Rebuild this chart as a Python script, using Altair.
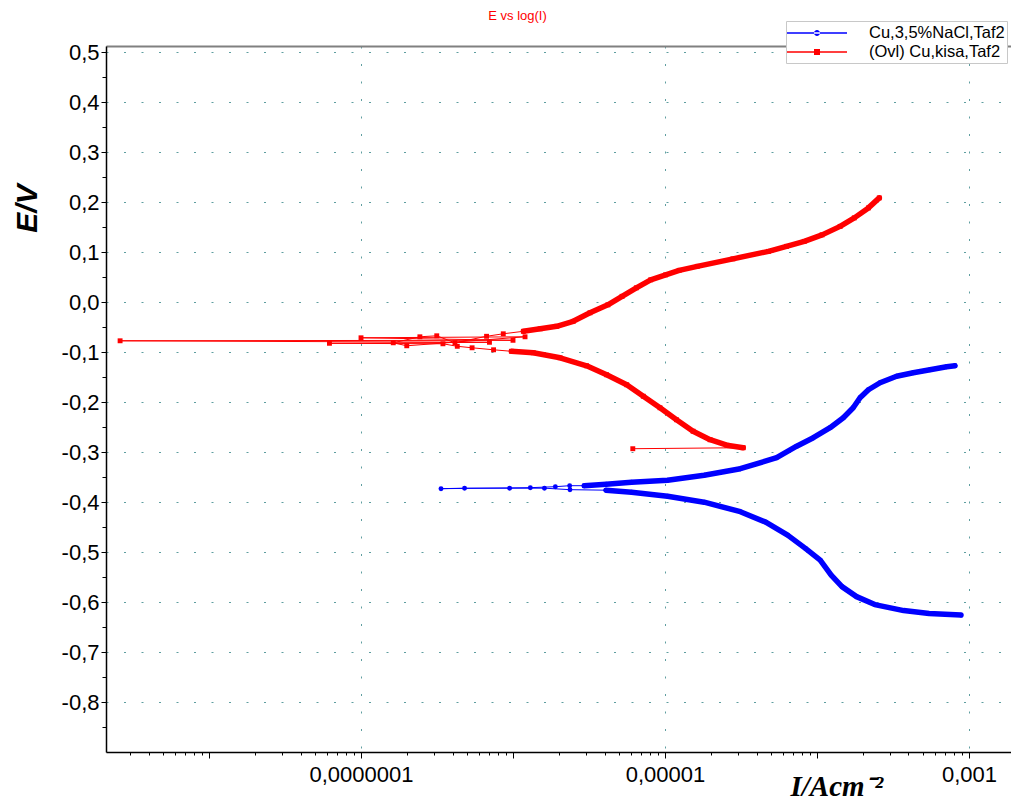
import altair as alt
import pandas as pd

SERIES = ["Cu,3,5%NaCl,Taf2", "(Ovl) Cu,kisa,Taf2"]
COLORS = ["#0000FF", "#FF0000"]

# ---- Cu,3,5%NaCl,Taf2 (scan order) ----
blue_I = [8.85e-4, 5.47e-4, 3.72e-4, 2.40e-4, 1.82e-4, 1.46e-4, 1.24e-4, 1.05e-4,
          8.43e-5, 6.41e-5, 4.60e-5, 3.13e-5, 1.81e-5, 1.04e-5, 6.03e-6, 4.09e-6,
          2.37e-6, 1.61e-6, 9.5e-7, 4.8e-7, 3.36e-7, 1.3e-6, 1.9e-6, 2.36e-6,
          2.94e-6, 4.10e-6, 6.02e-6, 1.04e-5, 1.81e-5, 3.13e-5, 5.43e-5, 7.35e-5,
          9.46e-5, 1.22e-4, 1.49e-4, 1.73e-4, 1.92e-4, 2.18e-4, 2.60e-4, 3.34e-4,
          4.30e-4, 5.54e-4, 7.13e-4, 8.09e-4]
blue_E = [-0.626, -0.623, -0.617, -0.605, -0.589, -0.569, -0.546, -0.516,
          -0.493, -0.466, -0.440, -0.419, -0.400, -0.388, -0.380, -0.376,
          -0.375, -0.372, -0.372, -0.372, -0.373, -0.371, -0.369, -0.367,
          -0.367, -0.364, -0.360, -0.356, -0.346, -0.333, -0.311, -0.288,
          -0.271, -0.251, -0.231, -0.211, -0.191, -0.175, -0.161, -0.148,
          -0.141, -0.135, -0.129, -0.127]
blue_branch = ["cathodic"] * 16 + ["ecorr"] * 8 + ["anodic"] * 20

# ---- (Ovl) Cu,kisa,Taf2 (scan order) ----
red_I = [6.14e-6,
         3.27e-5, 2.55e-5, 1.98e-5, 1.53e-5, 1.19e-5, 9.27e-6, 7.20e-6, 5.60e-6,
         4.13e-6, 3.05e-6, 2.04e-6, 1.36e-6, 9.76e-7,
         7.45e-7, 5.38e-7, 4.3e-7, 3.46e-7, 6.2e-8, 7.0e-7, 2.6e-9, 1.0e-6,
         1.0e-7, 1.2e-6, 2.0e-7, 1.63e-7, 2.44e-7, 3.15e-7, 4.15e-7, 6.7e-7, 8.63e-7,
         1.17e-6, 1.51e-6, 1.94e-6, 2.49e-6, 3.21e-6, 4.21e-6, 5.22e-6, 6.48e-6,
         8.05e-6, 1.01e-5, 1.24e-5, 1.63e-5, 2.80e-5, 4.80e-5, 6.30e-5, 8.25e-5,
         1.08e-4, 1.42e-4, 1.76e-4, 2.18e-4, 2.57e-4]
red_E = [-0.293,
         -0.291, -0.286, -0.275, -0.258, -0.235, -0.211, -0.188, -0.165,
         -0.145, -0.127, -0.111, -0.101, -0.098,
         -0.095, -0.091, -0.088, -0.083, -0.082, -0.080, -0.077, -0.076,
         -0.071, -0.069, -0.087, -0.081, -0.069, -0.067, -0.081, -0.068, -0.063,
         -0.058, -0.053, -0.048, -0.038, -0.021, -0.005, 0.012, 0.029,
         0.045, 0.055, 0.064, 0.072, 0.087, 0.102, 0.112, 0.122,
         0.135, 0.152, 0.169, 0.189, 0.209]
red_branch = ["start"] + ["cathodic"] * 13 + ["ecorr"] * 17 + ["anodic"] * 21

# ---- axes ----
X_DOMAIN = [2.1e-9, 1.89e-3]
Y_DOMAIN = [-0.9, 0.513]
x_label_values = [1e-7, 1e-5, 1e-3]
x_label_texts = ["0,0000001", "0,00001", "0,001"]
x_tick_values = [v for v in (float(f"{k}e{e}") for e in range(-9, -2) for k in range(1, 10))
                 if X_DOMAIN[0] <= v <= X_DOMAIN[1]]
y_tick_values = [round(0.05 * i, 2) for i in range(-17, 11)]

rows = []
for name, I, E, B in [(SERIES[0], blue_I, blue_E, blue_branch),
                      (SERIES[1], red_I, red_E, red_branch)]:
    for i, (a, b, c) in enumerate(zip(I, E, B)):
        rows.append({"series": name, "branch": c, "order": i, "I": a, "E": b})
df = pd.DataFrame(rows)

x_major_test = " || ".join(f"datum.value == {v!r}" for v in x_label_values)
x_label_expr = "".join(f"datum.value == {v!r} ? '{t}' : " for v, t in zip(x_label_values, x_label_texts)) + "''"
decade_test = "abs(log(datum.value)/LN10 - round(log(datum.value)/LN10)) < 1e-6"
y_major_test = "abs(datum.value*10 - round(datum.value*10)) < 1e-6"
y_label_expr = (f"{y_major_test} ? ((datum.value < -1e-9 ? '-' : '') + "
                "replace(format(abs(datum.value), '.1f'), '.', ',')) : ''")

GRID = "#5f9ea0"
x_axis = alt.Axis(
    values=x_tick_values, labelExpr=x_label_expr, labelOverlap=False, labelFlush=False,
    labelBound=False,
    labelFont="Liberation Sans", labelFontSize=22, labelColor="black", labelPadding=6,
    title="I/Acm⁻²", titleFont="Liberation Serif", titleFontSize=29, titleFontWeight="bold",
    titleFontStyle="italic", titleColor="black", titleAlign="left", titleBaseline="alphabetic",
    titleX=684, titleY=43,
    domainColor="black", domainWidth=1.5, tickColor="black", tickWidth=1,
    tickSize={"condition": {"test": decade_test, "value": 6}, "value": 3},
    grid=True, gridColor=GRID, gridDash=[2, 15.5], gridWidth=1,
    gridOpacity={"condition": {"test": x_major_test, "value": 1}, "value": 0},
)
x_top_axis = alt.Axis(orient="top", labels=False, ticks=False, grid=False, title=None,
                      domainColor="#808080", domainWidth=2)
y_axis = alt.Axis(
    values=y_tick_values, labelExpr=y_label_expr, labelOverlap=False, labelFlush=False,
    labelBound=False,
    labelFont="Liberation Sans", labelFontSize=22, labelColor="black", labelPadding=2,
    title="E/V", titleFont="Liberation Sans", titleFontSize=30, titleFontWeight="bold",
    titleFontStyle="italic", titleColor="black", titleAngle=270, titleAlign="center",
    titleBaseline="middle", titleX=-79, titleY=162,
    domainColor="black", domainWidth=1.5, tickColor="black", tickWidth=1,
    tickSize={"condition": {"test": y_major_test, "value": 5}, "value": 4},
    grid=True, gridColor=GRID, gridDash=[2, 15.5], gridWidth=1,
    gridOpacity={"condition": {"test": y_major_test, "value": 1}, "value": 0},
)

XS = alt.Scale(type="log", domain=X_DOMAIN, nice=False)
YS = alt.Scale(domain=Y_DOMAIN, nice=False, zero=False)


def enc(xaxis=None):
    return dict(x=alt.X("I:Q", scale=XS, axis=xaxis), y=alt.Y("E:Q", scale=YS, axis=y_axis))


def part(name):
    return alt.Chart(df).transform_filter(alt.datum.series == name)


layers = []
# thin connecting lines in scan order
layers.append(part(SERIES[0]).mark_line(strokeWidth=1, color=COLORS[0]).encode(
    order="order:Q", **enc(x_axis)))
layers.append(part(SERIES[1]).mark_line(strokeWidth=1, color=COLORS[1]).encode(
    order="order:Q", **enc(x_top_axis)))
# dense Tafel branches
for name, color in zip(SERIES, COLORS):
    sel = part(name).transform_filter("datum.branch == 'cathodic' || datum.branch == 'anodic'")
    layers.append(sel.mark_line(strokeWidth=5.5, color=color, strokeJoin="round",
                                strokeCap="round").encode(detail="branch:N", order="order:Q", **enc()))
# markers
layers.append(part(SERIES[0]).mark_point(shape="circle", filled=True, size=24, opacity=1,
                                         color=COLORS[0]).encode(**enc()))
layers.append(part(SERIES[1]).mark_point(shape="square", filled=True, size=24, opacity=1,
                                         color=COLORS[1]).encode(**enc()))

LEGEND_PATHS = [
    "M-3,-0.07H3V0.07H-3Z M-0.3,0A0.3,0.3 0 1,0 0.3,0A0.3,0.3 0 1,0 -0.3,0Z",
    "M-3,-0.07H3V0.07H-3Z M-0.3,-0.3H0.3V0.3H-0.3Z",
]
leg = alt.Legend(title=None, orient="none", legendX=680, legendY=-25, direction="vertical",
                 symbolSize=400, symbolStrokeWidth=0, symbolOpacity=1,
                 labelFont="Liberation Sans", labelFontSize=16.5, labelColor="black", labelLimit=300,
                 fillColor="white", strokeColor="#c8c8c8", padding=2, rowPadding=0,
                 symbolOffset=19, labelOffset=42)
legend_layer = alt.Chart(df).transform_filter("false").mark_point(filled=True, opacity=1).encode(
    color=alt.Color("series:N", scale=alt.Scale(domain=SERIES, range=COLORS), legend=leg),
    shape=alt.Shape("series:N", scale=alt.Scale(domain=SERIES, range=LEGEND_PATHS), legend=leg),
)
layers.append(legend_layer)

chart = alt.layer(*layers).resolve_axis(x="independent").properties(
    width=905, height=706,
    autosize=alt.AutoSizeParams(type="none"),
    padding={"left": 98, "top": 38, "right": 0, "bottom": 52},
    title=alt.TitleParams("E vs log(I)", color="#FF0000", fontSize=13,
                          font="Liberation Sans Narrow, Liberation Sans", fontWeight="normal",
                          anchor="middle", dx=-41, dy=2, offset=0, frame="group"),
).configure_view(stroke=None).configure_legend(
    labelFontSize=16.5, labelFont="Liberation Sans"
).configure(background="white")

chart.save("out.html", embed_options={"renderer": "svg", "actions": False})
